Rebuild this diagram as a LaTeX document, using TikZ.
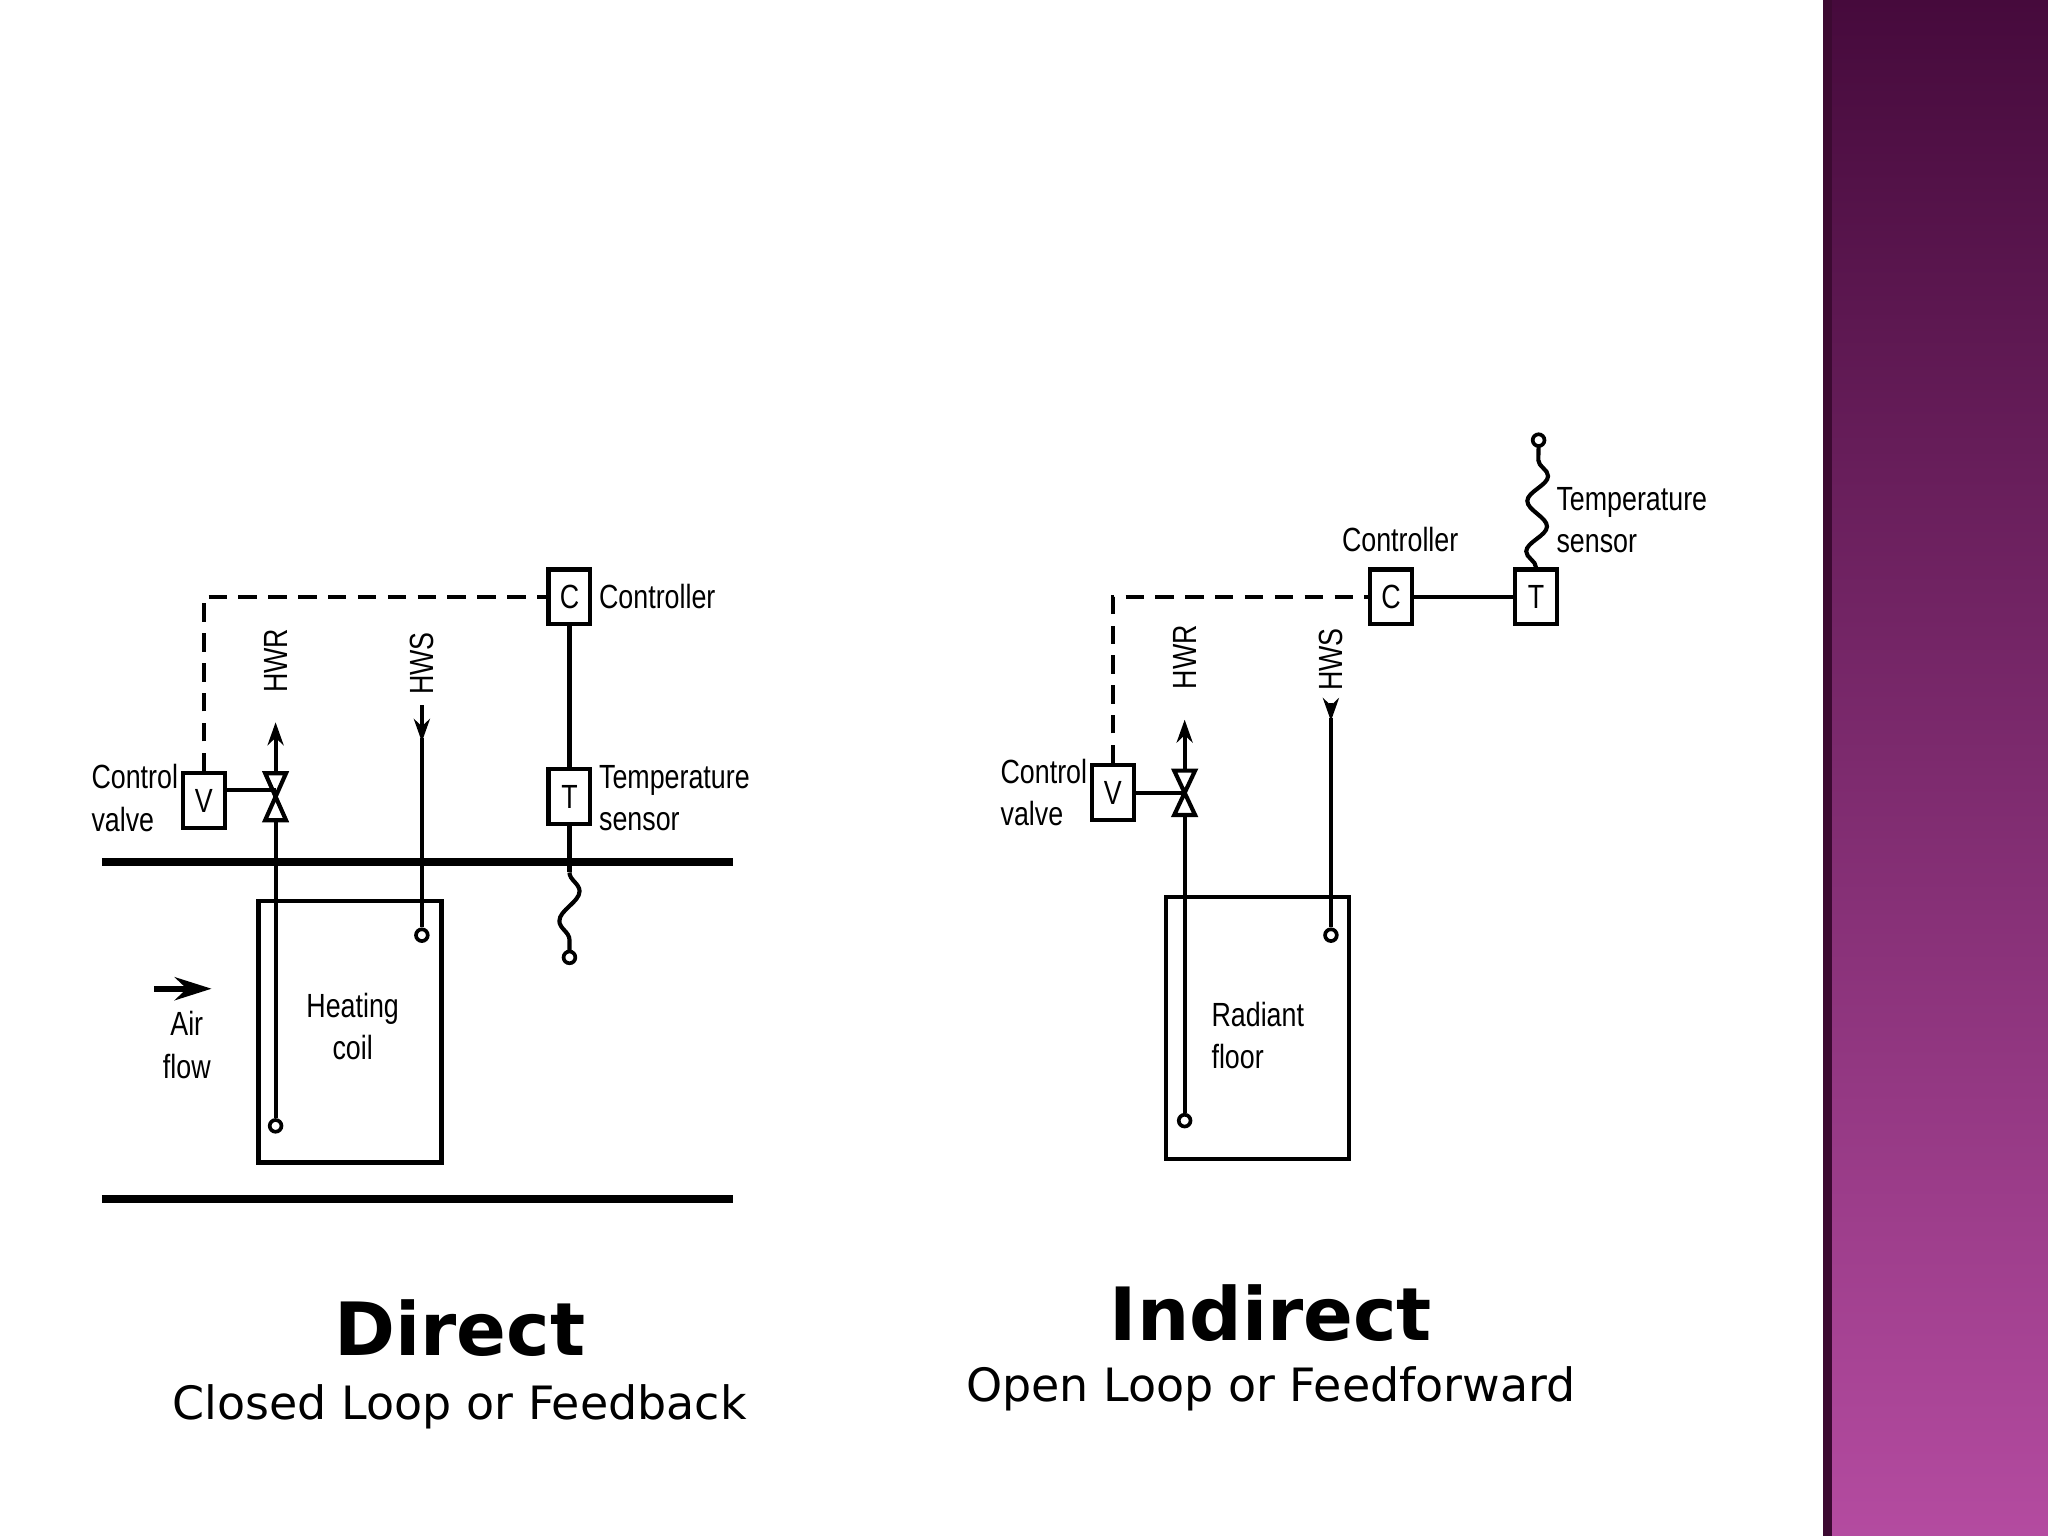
\documentclass[tikz,border=0pt]{standalone}
\usepackage{fontspec}
\setmainfont{DejaVu Sans}
\newfontfamily\lab[FakeStretch=0.8]{Liberation Sans}
\usetikzlibrary{arrows.meta,decorations.pathmorphing}
\definecolor{ptop}{RGB}{70,10,60}
\definecolor{pbot}{RGB}{180,75,160}
\definecolor{pedge}{RGB}{60,10,50}
\begin{document}
\begin{tikzpicture}[x=0.01cm,y=-0.01cm,
 box/.style={draw,line width=0.9pt,minimum width=0.32cm,minimum height=0.42cm,inner sep=0pt,font=\lab\fontsize{7.3}{9}\selectfont},
 lbl/.style={font=\lab\fontsize{7.3}{9.2}\selectfont,align=left,inner sep=0pt},
 pipe/.style={line width=0.9pt},
 duct/.style={line width=1.6pt},
 dsh/.style={line width=0.9pt,dash pattern=on 4pt off 2.5pt},
 arr/.style={-{Stealth[length=5pt,width=3.5pt]}},
 wig/.style={line width=0.9pt,decorate,decoration={snake,amplitude=2.2pt,segment length=13pt}},
 end/.style={circle,draw,line width=0.8pt,minimum size=0.09cm,inner sep=0pt}]
\useasboundingbox (0,0) rectangle (1568,1176);
\fill[white] (0,0) rectangle (1568,1176);
\shade[top color=ptop, bottom color=pbot] (1398,0) rectangle (1568,1176);
\draw[line width=2pt,pedge] (1399,0) -- (1399,1176);

% ---------- Direct ----------
\draw[duct] (78,660) -- (561,660);
\draw[duct] (78,918) -- (561,918);
\node[draw,line width=0.9pt,minimum width=1.4cm,minimum height=2cm,inner sep=0pt] (coil) at (268,790) {};
\node[lbl,align=center] at (270,786) {Heating\\coil};
\node[box] (V1) at (156,613) {V};
\node[box] (C1) at (436,457) {C};
\node[box] (T1) at (436,610) {T};
\node[lbl,anchor=west] at (458,457) {Controller};
\node[lbl,anchor=west] at (458,611) {Temperature\\sensor};
\node[lbl,anchor=east] at (137,611) {Control\\valve};
\node[end] (r1) at (211,862) {};
\node[end] (s1) at (323,716) {};
\coordinate (vl1) at (211,605);
\draw[pipe] (r1) -- (211,628);
\draw[pipe] (203,592) -- (219,592) -- (203,628) -- (219,628) -- cycle;
\draw[pipe,arr] (211,592) -- (211,553);
\draw[pipe] (V1.east |- vl1) -- (vl1);
\node[lbl,rotate=90] at (211,506) {HWR};
\draw[pipe,arr] (323,540) -- (323,568);
\draw[pipe] (323,565) -- (s1);
\node[lbl,rotate=90] at (323,508) {HWS};
\draw[dsh] (V1.north) -- (156,457) -- (C1.west);
\draw[pipe] (C1) -- (T1);
\node[end] (p1) at (436,733) {};
\draw[pipe] (T1.south) -- (436,668);
\draw[wig] (436,668) -- (436,728);
\draw[-{Stealth[length=8pt,width=5pt]},line width=1.3pt] (118,757) -- (162,757);
\node[lbl,align=center] at (143,800) {Air\\flow};
\node[font=\fontsize{16}{18}\selectfont\bfseries] at (352,1017) {Direct};
\node[font=\fontsize{10}{12}\selectfont] at (352,1077) {Closed Loop or Feedback};

% ---------- Indirect ----------
\node[draw,line width=0.9pt,minimum width=1.4cm,minimum height=2cm,inner sep=0pt] (floor) at (963,787) {};
\node[lbl,align=left] at (963,793) {Radiant\\floor};
\node[box] (V2) at (852,607) {V};
\node[box] (C2) at (1065,457) {C};
\node[box] (T2) at (1176,457) {T};
\node[lbl] at (1072,413) {Controller};
\node[lbl,anchor=west] at (1191,398) {Temperature\\sensor};
\node[lbl,anchor=east] at (833,607) {Control\\valve};
\node[end] (r2) at (907,858) {};
\node[end] (s2) at (1019,716) {};
\coordinate (vl2) at (907,607);
\draw[pipe] (r2) -- (907,624);
\draw[pipe] (899,590) -- (915,590) -- (899,624) -- (915,624) -- cycle;
\draw[pipe,arr] (907,590) -- (907,551);
\draw[pipe] (V2) -- (vl2);
\node[lbl,rotate=90] at (907,503) {HWR};
\draw[pipe,arr] (1019,538) -- (1019,552);
\draw[pipe] (1019,550) -- (s2);
\node[lbl,rotate=90] at (1019,505) {HWS};
\draw[dsh] (V2.north) -- (852,457) -- (C2.west);
\draw[pipe] (C2) -- (T2);
\node[end] (p2) at (1178,337) {};
\draw[wig,decoration={segment length=11pt}] (T2.north) -- (1178,342);
\node[font=\fontsize{16}{18}\selectfont\bfseries] at (973,1005) {Indirect};
\node[font=\fontsize{10}{12}\selectfont] at (973,1063) {Open Loop or Feedforward};
\end{tikzpicture}
\end{document}
